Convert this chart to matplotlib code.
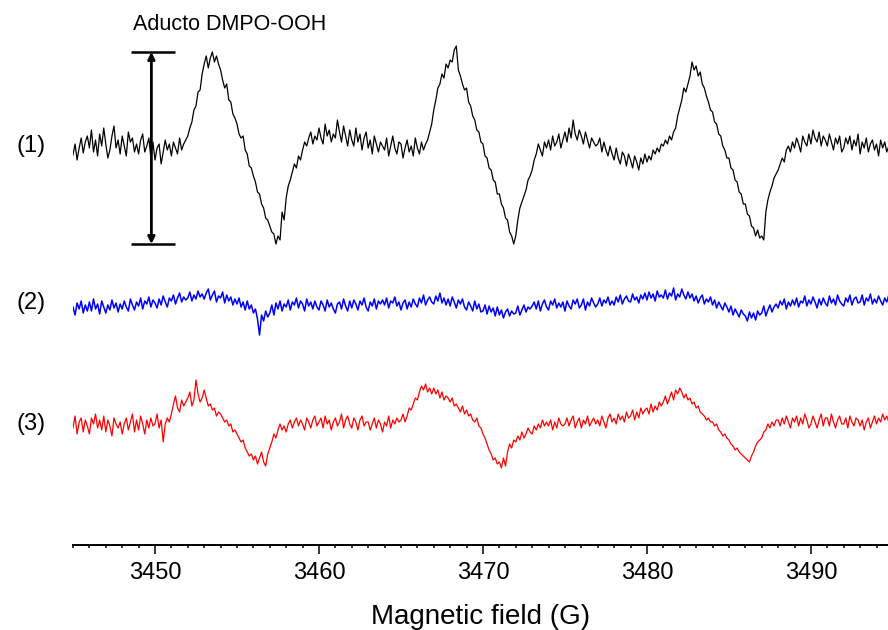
import numpy as np
import matplotlib
matplotlib.use("Agg")
import matplotlib.pyplot as plt
from matplotlib.ticker import MultipleLocator

plt.rcParams['font.family'] = ['Liberation Sans', 'DejaVu Sans']

# Magnetic field grid (G), 0.125 G steps
field = 3445 + 0.125 * np.arange(400)

# Spectrum (1): black, DMPO-OOH adduct (a.u.), 8 points per gauss
signal_1 = [
    -5, 6, -10, 2, 12, -3, 8, 14,
    2, 20, -2, 10, -6, 16, 4, 22,
    6, -8, 0, 14, 24, 2, 10, -4,
    14, 4, -6, 18, 8, 12, -2, 6,
    -4, 10, 16, -2, 4, 12, -8, 8,
    -10, 2, 6, -14, -2, 10, 0, 6,
    -6, 8, 2, -4, 12, 0, 6, 10,
    14, 22, 28, 40, 44, 58, 60, 76,
    86, 94, 82, 92, 98, 88, 94, 86,
    80, 70, 62, 66, 50, 48, 36, 32,
    26, 16, 12, 14, 0, -4, -16, -18,
    -26, -32, -42, -44, -54, -58, -68, -70,
    -76, -82, -84, -94, -86, -90, -62, -70,
    -48, -36, -30, -22, -14, -18, -6, -10,
    0, 8, 4, 12, 18, 6, 14, 10,
    22, 12, 6, 26, 14, 20, 8, 16,
    12, 30, 18, 8, 24, 14, 4, 20,
    10, 4, 22, 8, 16, 0, 12, 18,
    2, 10, -4, 14, 6, -2, 8, 4,
    0, 12, -6, 4, 14, 2, -4, 8,
    6, -8, 2, 10, -2, 4, -6, 12,
    2, -4, 8, 0, 6, 10, 18, 26,
    40, 50, 62, 66, 76, 72, 86, 82,
    90, 88, 100, 104, 80, 74, 66, 60,
    62, 48, 44, 34, 30, 20, 18, 8,
    6, -6, -8, -18, -20, -30, -32, -44,
    -44, -54, -58, -68, -70, -82, -86, -94,
    -86, -70, -58, -52, -46, -40, -30, -26,
    -20, -10, -4, 6, 0, -6, 8, 2,
    10, 0, 14, 4, 8, 16, 2, 10,
    18, 8, 22, 12, 30, 16, 10, 20,
    14, 6, 18, 10, 2, 12, 8, 4,
    6, 12, -2, 8, 0, -6, 4, -4,
    -10, 2, -8, -14, -2, -6, -16, -4,
    -10, -18, -6, -12, -20, -8, -14, -4,
    -12, -6, -10, 0, -4, 2, -2, 6,
    4, 10, 6, 14, 10, 18, 22, 34,
    42, 50, 62, 58, 66, 74, 88, 80,
    84, 74, 78, 66, 62, 54, 48, 40,
    38, 28, 26, 16, 14, 4, 0, -8,
    -8, -18, -20, -30, -32, -42, -44, -54,
    -54, -64, -66, -76, -78, -86, -80, -88,
    -86, -90, -62, -50, -42, -36, -28, -24,
    -20, -14, -8, -12, 0, 4, -2, 8,
    2, 12, 6, -2, 14, 8, 4, 16,
    6, 20, 12, 8, 18, 4, 14, 10,
    4, 16, 8, 0, 12, 6, 14, -2,
    2, 12, 6, 14, 0, 10, 4, 16,
    -4, 8, 2, 12, -2, 6, 10, 0,
    6, -6, 10, 2, 8, -2, 4, 10,
]

# Spectrum (2): blue (a.u.)
signal_2 = [
    0, -8, 4, -2, 6, -6, 2, -4,
    5, -4, 8, -2, 3, -7, 6, 0,
    -6, 2, -3, 7, -1, 4, -5, 3,
    -2, 6, 0, -4, 8, 2, -3, 5,
    1, 9, -2, 6, 3, 10, 0, 7,
    4, -1, 8, 2, 11, 5, 0, 9,
    6, 12, 3, 9, 14, 5, 10, 7,
    9, 15, 6, 12, 8, 16, 10, 13,
    8, 14, 18, 7, 12, 16, 5, 11,
    9, 15, 4, 12, 6, 10, 2, 8,
    3, 9, 0, 5, -3, 6, -2, 2,
    -6, -2, -12, -28, -8, -14, -4, -10,
    -6, 2, -8, 4, -2, 6, -4, 3,
    0, 7, -3, 5, 2, 9, -1, 6,
    3, -4, 8, 1, 5, -2, 6, 0,
    -3, 6, 2, -4, 7, 0, 4, -2,
    -6, 3, 5, -2, 8, 1, -4, 6,
    -1, 7, 3, -3, 6, 2, 9, 0,
    -4, 5, 1, 8, -2, 6, 3, 7,
    2, 9, -1, 6, 4, 10, 1, 5,
    -3, 4, 7, -2, 5, 0, 8, 3,
    0, 9, 4, 12, 2, 7, 10, 5,
    3, 11, 6, 14, 4, 9, 2, 8,
    1, 10, 5, -1, 7, 3, 8, 0,
    -3, 5, 1, -4, 6, -2, 3, -5,
    -4, 2, -7, 1, -5, -1, -9, 0,
    -8, -3, -11, -5, -2, -9, -4, -7,
    -6, 1, -8, -3, 2, -5, 0, -2,
    1, 5, -2, 6, -4, 3, 7, 0,
    -3, 6, 2, 8, -1, 4, 0, 5,
    -4, 6, 1, -2, 7, 3, 8, -1,
    2, 8, -3, 5, 1, 9, 4, 0,
    3, 9, 1, 7, 4, 10, 2, 6,
    2, 10, 5, 12, 3, 8, 11, 6,
    5, 13, 7, 10, 4, 12, 8, 14,
    7, 15, 9, 13, 6, 16, 10, 12,
    9, 17, 8, 14, 11, 19, 7, 13,
    10, 18, 12, 8, 15, 9, 13, 6,
    11, 4, 9, 12, 3, 8, 5, 10,
    2, 7, -1, 5, 1, -3, 4, 0,
    -5, 1, -8, -2, -6, -10, -3, -7,
    -9, -14, -5, -11, -6, -13, -4, -8,
    -6, 1, -9, -3, 2, -5, 0, 3,
    -1, 6, 2, 8, -2, 5, 1, 7,
    2, 9, 0, 6, 4, 11, 1, 7,
    3, 10, 5, -1, 8, 2, 9, 4,
    1, 11, 4, 8, 2, 12, 6, 3,
    1, 9, 5, 12, 2, 8, 10, 4,
    5, 12, 2, 9, 6, 13, 3, 8,
    4, 11, 6, 2, 9, 5, 12, 7,
]

# Spectrum (3): red (a.u.)
signal_3 = [
    0, 12, -6, 6, 10, -4, 8, 2,
    -6, 10, 4, 14, 0, 8, -2, 12,
    -4, 8, 2, -8, 10, 4, 0, 6,
    -6, 4, 10, -2, 6, 14, -4, 8,
    -2, 12, 4, -6, 8, 0, 10, 2,
    4, 14, 0, 8, -14, 4, 10, 6,
    14, 24, 32, 20, 16, 28, 22, 26,
    30, 36, 22, 28, 48, 34, 26, 30,
    38, 30, 22, 24, 18, 20, 12, 16,
    14, 10, 6, 8, 2, 4, -4, -2,
    -6, -10, -14, -12, -20, -24, -28, -26,
    -32, -28, -36, -30, -24, -34, -38, -26,
    -20, -14, -6, -10, -2, 4, -2, 2,
    -4, 4, 8, 0, 6, 10, 2, 8,
    4, -2, 10, 6, 0, 8, 12, 2,
    6, 10, 0, 12, 4, 8, -2, 6,
    10, 2, 6, 14, 0, 8, 12, 4,
    0, 10, 6, -2, 8, 12, 2, 6,
    6, -2, 4, 10, 0, 8, 4, -4,
    6, 2, 12, 0, 8, 4, 10, 6,
    8, 14, 6, 12, 20, 18, 24, 30,
    28, 36, 42, 38, 44, 36, 40, 34,
    40, 34, 38, 30, 36, 28, 32, 30,
    26, 30, 22, 24, 20, 16, 22, 14,
    18, 12, 14, 8, 6, 10, 2, 0,
    -6, -10, -16, -22, -26, -32, -30, -36,
    -34, -40, -30, -38, -24, -16, -20, -12,
    -14, -8, -12, -4, -10, -6, 0, -4,
    -6, 2, -2, 4, 0, 8, 2, 6,
    2, 8, -2, 6, 0, 10, 4, 2,
    4, 10, 2, 8, 12, 0, 6, 10,
    0, 8, 4, 12, 2, 6, 10, 4,
    8, 2, 12, 6, 0, 10, 14, 6,
    10, 4, 14, 8, 12, 6, 16, 10,
    12, 18, 8, 16, 10, 20, 14, 18,
    20, 14, 24, 16, 22, 18, 26, 22,
    26, 32, 24, 30, 36, 28, 38, 34,
    40, 36, 30, 34, 28, 30, 24, 26,
    20, 22, 16, 14, 12, 8, 10, 6,
    6, 2, 4, -2, -4, -8, -6, -10,
    -12, -16, -18, -22, -20, -24, -26, -28,
    -30, -32, -34, -28, -24, -18, -14, -12,
    -10, -4, -2, 4, 0, 6, 2, 8,
    8, 2, 10, 4, 12, 6, 0, 10,
    6, 12, 2, 10, 4, 14, 8, 0,
    4, 12, 6, 0, 8, 14, 2, 10,
    10, 2, 14, 6, 0, 8, 12, 4,
    4, 10, 0, 12, 6, 2, 10, 8,
    2, 8, -2, 6, 10, 0, 6, 12,
    4, 10, 6, 14, 8, 12, 6, 12,
]

labels = ["(1)", "(2)", "(3)"]
colors = ["black", "blue", "red"]
widths = [0.9, 1.1, 0.9]
annotation_text = "Aducto DMPO-OOH"
xlabel = "Magnetic field (G)"

W, H = 888, 630
fig = plt.figure(figsize=(W / 100, H / 100), dpi=100)
ax = fig.add_axes([73 / W, 85 / H, 815 / W, 545 / H])
ax.set_xlim(3445, 3494.7)
ax.set_ylim(-545, 0)

baselines = [150, 307, 428]  # vertical stacking positions
for sig, base, col, lw in zip([signal_1, signal_2, signal_3], baselines, colors, widths):
    ax.plot(field, -base + np.asarray(sig), color=col, lw=lw)

for lab, base in zip(labels, baselines):
    fig.text(31 / W, 1 - (base - 4) / H, lab, fontsize=17, ha='center', va='center')

# peak-to-peak marker for first line of spectrum (1)
s1 = np.asarray(signal_1)
region = field < 3460
top = -baselines[0] + s1[region].max()
bottom = -baselines[0] + s1[region].min()
ax.hlines([top, bottom], 3448.55, 3451.2, color='black', lw=1.8)
ax.annotate('', xy=(3449.78, top), xytext=(3449.78, bottom),
            arrowprops=dict(arrowstyle='<|-|>', color='black', lw=2.0,
                            mutation_scale=10, shrinkA=0, shrinkB=0))
fig.text(133 / W, 1 - 24 / H, annotation_text, fontsize=15.5, ha='left', va='center')

for s in ['left', 'right', 'top']:
    ax.spines[s].set_visible(False)
ax.spines['bottom'].set_linewidth(1.4)
ax.set_yticks([])
ax.xaxis.set_major_locator(MultipleLocator(10))
ax.xaxis.set_minor_locator(MultipleLocator(1))
ax.tick_params(axis='x', which='major', direction='out', length=6.5, width=1.1,
               labelsize=17, pad=6)
ax.tick_params(axis='x', which='minor', direction='out', length=2.5, width=1.1)
ax.set_xlabel(xlabel, fontsize=20, labelpad=14)

fig.savefig("out.png", dpi=100)
